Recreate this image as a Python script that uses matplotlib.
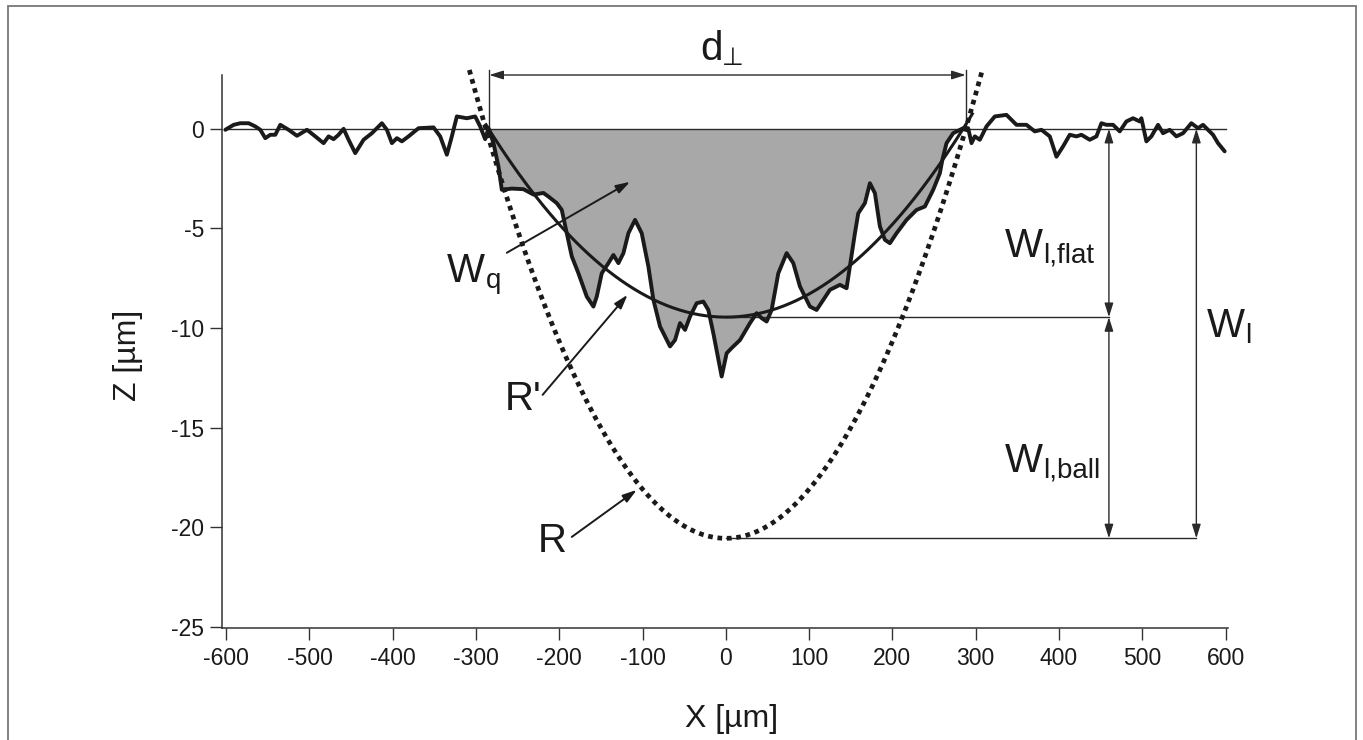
import matplotlib
matplotlib.use('Agg')
import matplotlib.pyplot as plt
import numpy as np
from matplotlib.patches import Rectangle

plt.rcParams['font.family'] = ['Liberation Sans', 'DejaVu Sans']
plt.rcParams['mathtext.fontset'] = 'custom'
plt.rcParams['mathtext.rm'] = 'Liberation Sans'

# ---------------- data ----------------
profile_x = [-601, -591, -583, -573, -565, -559, -553, -547, -541, -535, -525, -515, -503,
             -493, -483, -477, -471, -465, -459, -453, -445, -435, -425, -413, -407, -401,
             -395, -389, -381, -369, -351, -343, -335, -329, -323, -311, -301, -295, -289,
             -285, -279, -273, -269, -257, -243, -231, -219, -213, -203, -197, -191, -185,
             -177, -167, -159, -155, -149, -141, -135, -129, -123, -117, -109, -101, -93,
             -87, -79, -67, -61, -55, -49, -43, -35, -27, -21, -15, -5, 1, 7, 17, 29, 37,
             43, 49, 55, 63, 73, 81, 89, 101, 109, 117, 125, 137, 145, 149, 155, 159, 167,
             173, 179, 185, 191, 197, 205, 217, 229, 239, 249, 257, 260, 265, 273, 285,
             291, 295, 299, 305, 313, 323, 337, 349, 361, 371, 379, 389, 397, 405, 413,
             421, 427, 437, 445, 451, 457, 465, 473, 481, 489, 497, 499, 505, 511, 519,
             525, 533, 541, 549, 559, 567, 573, 585, 591, 599]
profile_z = [-0.05, 0.2, 0.28, 0.28, 0.12, -0.05, -0.47, -0.3, -0.3, 0.2, -0.05, -0.35, -0.05,
             -0.38, -0.72, -0.38, -0.52, -0.3, 0.0, -0.55, -1.22, -0.55, -0.22, 0.28, -0.05,
             -0.72, -0.47, -0.63, -0.38, 0.03, 0.07, -0.38, -1.3, -0.38, 0.62, 0.53, 0.62,
             0.12, -0.52, 0.03, -0.72, -1.9, -3.06, -3.0, -3.03, -3.3, -3.22, -3.4, -3.73,
             -4.07, -5.24, -6.4, -7.25, -8.42, -8.92, -8.42, -7.25, -6.74, -6.33, -6.74,
             -6.24, -5.24, -4.57, -5.24, -6.91, -8.58, -9.92, -10.92, -10.6, -9.75, -10.09,
             -9.42, -8.75, -8.67, -9.09, -10.26, -12.43, -11.26, -11.0, -10.6, -9.75, -9.25,
             -9.5, -9.67, -9.09, -7.25, -6.24, -6.74, -7.91, -8.92, -9.09, -8.58, -8.08,
             -7.83, -8.0, -6.91, -5.24, -4.24, -3.73, -2.73, -3.23, -4.9, -5.57, -5.74,
             -5.24, -4.57, -4.07, -3.9, -3.06, -2.23, -1.56, -0.72, -0.22, 0.03, 0.03,
             -0.72, -0.38, -0.55, 0.12, 0.62, 0.7, 0.2, 0.2, -0.13, -0.05, -0.38, -1.4,
             -0.88, -0.3, -0.38, -0.3, -0.55, -0.38, 0.28, 0.2, 0.2, -0.13, 0.37, 0.53,
             0.37, 0.53, -0.63, -0.38, 0.2, -0.22, -0.05, -0.38, -0.22, 0.28, 0.03, 0.2,
             -0.3, -0.72, -1.13]

# crater edges (d_perp) and fitted depths / radii
d_left, d_right = -284, 288
flat_depth = -9.45          # W_l,flat
ball_depth = -20.55         # W_l
r_prime = 4300.0            # radius of the flattened fit R' [um]
r_ball = 2030.0             # ball radius R [um]
r_prime_span = (-288, 296)
r_ball_span = (-308, 308)

x_ticks = [-600, -500, -400, -300, -200, -100, 0, 100, 200, 300, 400, 500, 600]
z_ticks = [0, -5, -10, -15, -20, -25]

# ---------------- figure ----------------
fig = plt.figure(figsize=(13.63, 7.40), dpi=100)
ax = fig.add_axes([222 / 1363, 112 / 740, 1006 / 1363, 553 / 740])
ax.set_xlim(-605, 603)
ax.set_ylim(-25.05, 2.7)

ink = '#1a1a1a'
thin = '#2a2a2a'

px = np.array(profile_x, dtype=float)
pz = np.array(profile_z, dtype=float)

# fill of the wear area
mask = (px >= d_left - 2) & (px <= d_right + 2)
ax.fill_between(px, pz, 0, where=mask & (pz < 0), interpolate=True,
                color='#a8a8a8', lw=0, zorder=1)

# zero reference line
ax.plot([-600, 600], [0, 0], color=thin, lw=1.0, zorder=2)

# R' (solid) and R (dotted) arcs
xs = np.linspace(r_prime_span[0], r_prime_span[1], 300)
ax.plot(xs, flat_depth + r_prime - np.sqrt(r_prime ** 2 - xs ** 2), color=ink, lw=2.2, zorder=4)
xb = np.linspace(r_ball_span[0], r_ball_span[1], 300)
ax.plot(xb, ball_depth + r_ball - np.sqrt(r_ball ** 2 - xb ** 2), color=ink, lw=3.4,
        linestyle=(0, (1.0, 1.0)), dash_capstyle='butt', zorder=4, clip_on=False)

# measured profile
ax.plot(px, pz, color=ink, lw=2.8, solid_joinstyle='round', solid_capstyle='round', zorder=5)

# helper horizontal lines
ax.plot([0, 460], [flat_depth, flat_depth], color=thin, lw=1.0, zorder=3)
ax.plot([0, 565], [ball_depth, ball_depth], color=thin, lw=1.0, zorder=3)

# d_perp dimension
top_z = 2.95
for xv in (d_left, d_right):
    ax.plot([xv, xv], [0, top_z], color=thin, lw=1.0, clip_on=False, zorder=3)

dim_style = dict(arrowstyle='<|-|>,head_length=0.7,head_width=0.22', color=thin, lw=1.0,
                 shrinkA=0, shrinkB=0, mutation_scale=12)
one_style = dict(arrowstyle='-|>,head_length=0.7,head_width=0.22', color=ink, lw=1.4,
                 shrinkA=0, shrinkB=0, mutation_scale=12)

ax.annotate('', xy=(d_right, 2.7), xytext=(d_left, 2.7), arrowprops=dim_style,
            annotation_clip=False)
ax.annotate('', xy=(460, flat_depth), xytext=(460, 0), arrowprops=dim_style)
ax.annotate('', xy=(460, ball_depth), xytext=(460, flat_depth), arrowprops=dim_style)
ax.annotate('', xy=(565, ball_depth), xytext=(565, 0), arrowprops=dim_style)

# pointer arrows
ax.annotate('', xy=(-115, -2.66), xytext=(-263, -6.22), arrowprops=one_style)
ax.annotate('', xy=(-118, -8.33), xytext=(-220, -13.35), arrowprops=one_style)
ax.annotate('', xy=(-107, -18.12), xytext=(-185, -20.48), arrowprops=one_style)

# labels
big = 29
sub = 20


def label(x, z, main, subtxt=None, subfam=None, subsize=sub, dx=0.5, dy=1.5):
    t = ax.text(x, z, main, ha='left', va='baseline', fontsize=big, color=ink,
                clip_on=False)
    if subtxt:
        kw = {}
        if subfam:
            kw['family'] = subfam
        ax.annotate(subtxt, xy=(1, 0), xycoords=t, xytext=(dx, dy),
                    textcoords='offset points', ha='left', va='baseline',
                    fontsize=subsize, color=ink, annotation_clip=False, **kw)
    return t


label(-31, 3.46, 'd', '\u22a5', subfam=['DejaVu Sans'], subsize=18, dx=-0.5, dy=2.0)
label(-335, -7.68, 'W', 'q')
label(-265, -14.1, "R'")
label(-226, -21.23, 'R')
label(335, -6.43, 'W', 'l,flat')
label(335, -17.2, 'W', 'l,ball')
label(577, -10.44, 'W', 'l')

# axes styling
for s in ('top', 'right'):
    ax.spines[s].set_visible(False)
for s in ('left', 'bottom'):
    ax.spines[s].set_color('#333333')
    ax.spines[s].set_linewidth(1.1)
ax.set_xticks(x_ticks)
ax.set_yticks(z_ticks)
ax.set_xticklabels([str(v) for v in x_ticks])
ax.set_yticklabels([str(v) for v in z_ticks])
ax.tick_params(direction='out', length=8.5, width=1.0, colors='#333333', labelsize=16.5,
               labelcolor=ink)
ax.tick_params(axis='x', pad=5.5)
ax.tick_params(axis='y', pad=4.5)

ax.set_xlabel('X [µm]', fontsize=23, color=ink)
ax.set_ylabel('Z [µm]', fontsize=23, color=ink)
ax.xaxis.set_label_coords((732 - 222) / 1006, (628 - 704) / 553)
ax.yaxis.set_label_coords((143 - 222) / 1006, (628 - 355) / 553)

# figure frame
fig.patches.append(Rectangle((8 / 1363, -0.05), (1356 - 8) / 1363, 1.05 - 6 / 740,
                             transform=fig.transFigure, fill=False, ec='#777777', lw=1.3))

fig.savefig('out.png', dpi=100, facecolor='white')
